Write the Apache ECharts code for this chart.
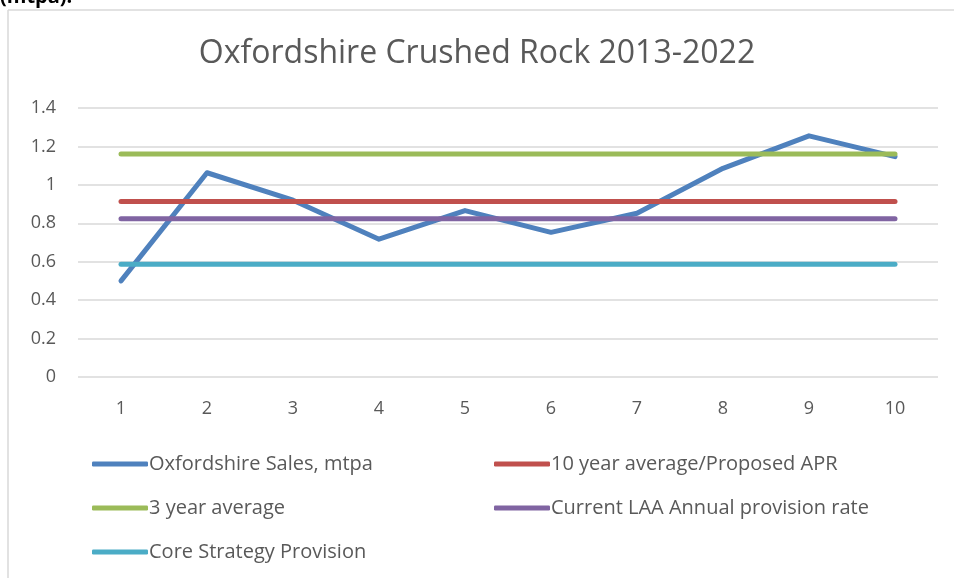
<!DOCTYPE html>
<html>
<head>
<meta charset="utf-8">
<script src="https://cdn.jsdelivr.net/npm/echarts@6/dist/echarts.min.js"></script>
<style>
  html, body { margin: 0; padding: 0; background: #fff; }
  #chart { width: 954px; height: 578px; }
</style>
</head>
<body>
<div id="chart"></div>
<script>
const years = ['1', '2', '3', '4', '5', '6', '7', '8', '9', '10'];
const sales = [0.50, 1.063, 0.92, 0.717, 0.866, 0.753, 0.852, 1.086, 1.255, 1.147];
const tenYearAvg = [0.913, 0.913, 0.913, 0.913, 0.913, 0.913, 0.913, 0.913, 0.913, 0.913];
const threeYearAvg = [1.161, 1.161, 1.161, 1.161, 1.161, 1.161, 1.161, 1.161, 1.161, 1.161];
const laaRate = [0.824, 0.824, 0.824, 0.824, 0.824, 0.824, 0.824, 0.824, 0.824, 0.824];
const coreStrategy = [0.587, 0.587, 0.587, 0.587, 0.587, 0.587, 0.587, 0.587, 0.587, 0.587];

const font = "'Open Sans', 'Noto Sans', sans-serif";
const textColor = '#595959';

const chart = echarts.init(document.getElementById('chart'));

function lineSeries(name, data, color) {
    return {
        name: name,
        type: 'line',
        data: data,
        symbol: 'none',
        lineStyle: { color: color, width: 5, cap: 'round', join: 'round' },
        itemStyle: { color: color },
        animation: false
    };
}

const legendStyle = {
    orient: 'vertical',
    top: 449,
    itemGap: 24,
    itemWidth: 56,
    itemHeight: 5,
    icon: 'roundRect',
    textStyle: { fontFamily: font, fontSize: 20, color: textColor, padding: [0, 0, 0, -4] }
};

const option = {
    backgroundColor: '#fff',
    title: {
        text: 'Oxfordshire Crushed Rock 2013-2022',
        left: 'center',
        top: 33,
        textStyle: { fontFamily: font, fontSize: 32, fontWeight: 'normal', color: textColor }
    },
    grid: { left: 78, right: 16, top: 108, bottom: 201, containLabel: false },
    xAxis: {
        type: 'category',
        data: years,
        boundaryGap: true,
        axisLine: { show: false },
        axisTick: { show: false },
        axisLabel: { fontFamily: font, fontSize: 18, color: textColor, margin: 23 }
    },
    yAxis: {
        type: 'value',
        min: 0,
        max: 1.4,
        interval: 0.2,
        axisLine: { show: false },
        axisTick: { show: false },
        axisLabel: {
            fontFamily: font, fontSize: 18, color: textColor, margin: 22,
            formatter: v => String(Math.round(v * 10) / 10)
        },
        splitLine: { lineStyle: { color: '#d9d9d9', width: 1.5 } }
    },
    legend: [
        Object.assign({}, legendStyle, {
            left: 87,
            data: ['Oxfordshire Sales, mtpa', '3 year average', 'Core Strategy Provision']
        }),
        Object.assign({}, legendStyle, {
            left: 489,
            data: ['10 year average/Proposed APR', 'Current LAA Annual provision rate']
        })
    ],
    graphic: [
        { type: 'line', shape: { x1: 8, y1: 10, x2: 954, y2: 10 }, style: { stroke: '#d9d9d9', lineWidth: 1.5 } },
        { type: 'line', shape: { x1: 8, y1: 10, x2: 8, y2: 578 }, style: { stroke: '#d9d9d9', lineWidth: 1.5 } },
        {
            type: 'text', left: 0, top: -13,
            style: { text: '(mtpa).', fontFamily: "'Open Sans', sans-serif", fontSize: 20, fontWeight: 'bold', fill: '#000' }
        }
    ],
    series: [
        lineSeries('Oxfordshire Sales, mtpa', sales, '#4f81bd'),
        lineSeries('10 year average/Proposed APR', tenYearAvg, '#c0504d'),
        lineSeries('3 year average', threeYearAvg, '#9bbb59'),
        lineSeries('Current LAA Annual provision rate', laaRate, '#8064a2'),
        lineSeries('Core Strategy Provision', coreStrategy, '#4bacc6')
    ]
};

chart.setOption(option);
</script>
</body>
</html>
